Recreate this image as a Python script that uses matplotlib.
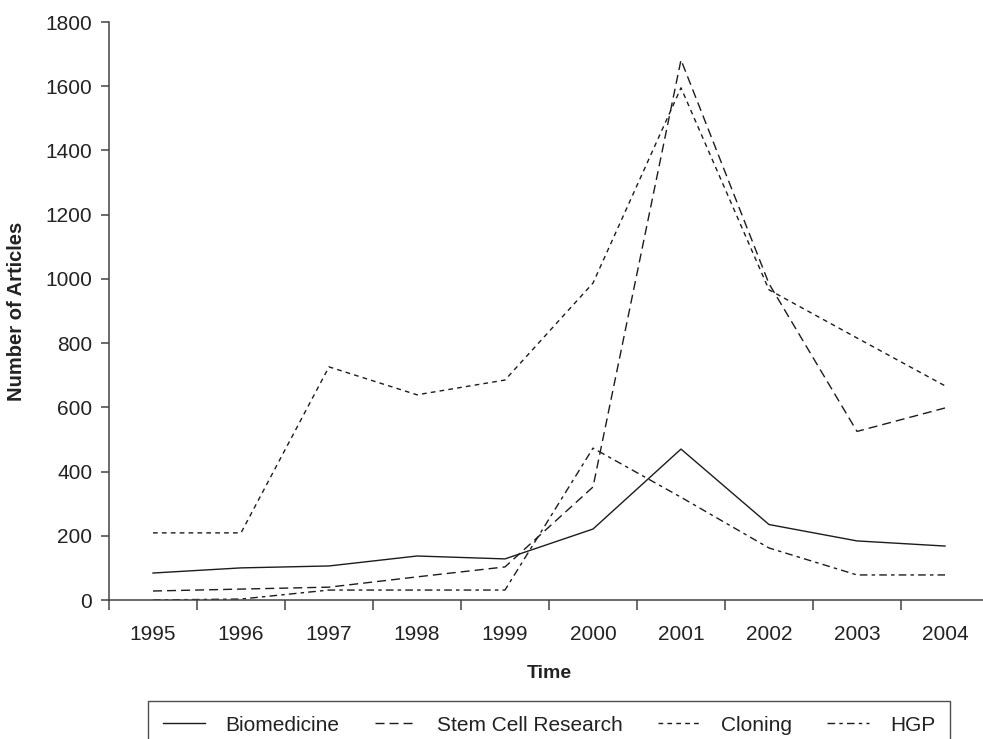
import matplotlib
matplotlib.use('Agg')
import matplotlib.pyplot as plt
import numpy as np

plt.rcParams['font.family'] = ['Liberation Sans', 'DejaVu Sans']

# data
years = ['1995', '1996', '1997', '1998', '1999', '2000', '2001', '2002', '2003', '2004']
biomedicine = [84, 100, 106, 137, 128, 221, 470, 235, 184, 168]
stem_cell = [28, 34, 40, 72, 103, 352, 1682, 985, 525, 598]
cloning = [209, 209, 726, 639, 685, 987, 1595, 966, 816, 667]
hgp = [0, 3, 31, 31, 31, 473, 320, 162, 78, 78]

fig = plt.figure(figsize=(9.83, 7.39), dpi=100)
ax = fig.add_axes([109 / 983, 1 - 600 / 739, 880 / 983, 578 / 739])

idx = np.arange(len(years))
col = '#1c1c1c'
lw = 1.0

ax.plot(idx, biomedicine, color=col, lw=lw, linestyle='-', label='Biomedicine')
ax.plot(idx, stem_cell, color=col, lw=lw, linestyle=(0, (6.5, 3.6)), label='Stem Cell Research')
ax.plot(idx, cloning, color=col, lw=lw, linestyle=(0, (3.4, 3.0)), label='Cloning')
ax.plot(idx, hgp, color=col, lw=lw, linestyle=(0, (5.5, 3.0, 2.5, 3.0)), label='HGP')

ax.set_xlim(-0.5, len(years) - 0.5)
ax.set_ylim(0, 1800)
ax.set_yticks(np.arange(0, 1801, 200))

# labels at category centres, tick marks at category boundaries
ax.set_xticks(idx)
ax.set_xticklabels(years)
ax.set_xticks(np.arange(-0.5, len(years), 1.0), minor=True)
ax.tick_params(axis='x', which='major', length=0, pad=18, labelsize=15, colors='#222')
ax.tick_params(axis='x', which='minor', length=7, width=1.1, color='#444', direction='out')
ax.tick_params(axis='y', length=6, width=1.1, color='#444', pad=6, labelsize=15, labelcolor='#222')

for s in ['top', 'right']:
    ax.spines[s].set_visible(False)
for s in ['left', 'bottom']:
    ax.spines[s].set_linewidth(1.1)
    ax.spines[s].set_color('#444')

ax.set_xlabel('Time', fontsize=14, fontweight='bold', color='#222')
ax.set_ylabel('Number of Articles', fontsize=14.5, fontweight='bold', color='#222')
ax.xaxis.set_label_coords(0.5, -65 / 578)
ax.yaxis.set_label_coords(-83 / 880, 0.5)

leg = fig.legend(loc='upper center', bbox_to_anchor=(549 / 983, 1 - 701 / 739),
                 ncol=4, fontsize=15, frameon=True, fancybox=False,
                 handlelength=2.0, handletextpad=1.0, columnspacing=1.7,
                 borderpad=0.7, borderaxespad=0, edgecolor='#222')
leg.get_frame().set_linewidth(1.0)
for t in leg.get_texts():
    t.set_color('#222')

fig.savefig('out.png', dpi=100)
